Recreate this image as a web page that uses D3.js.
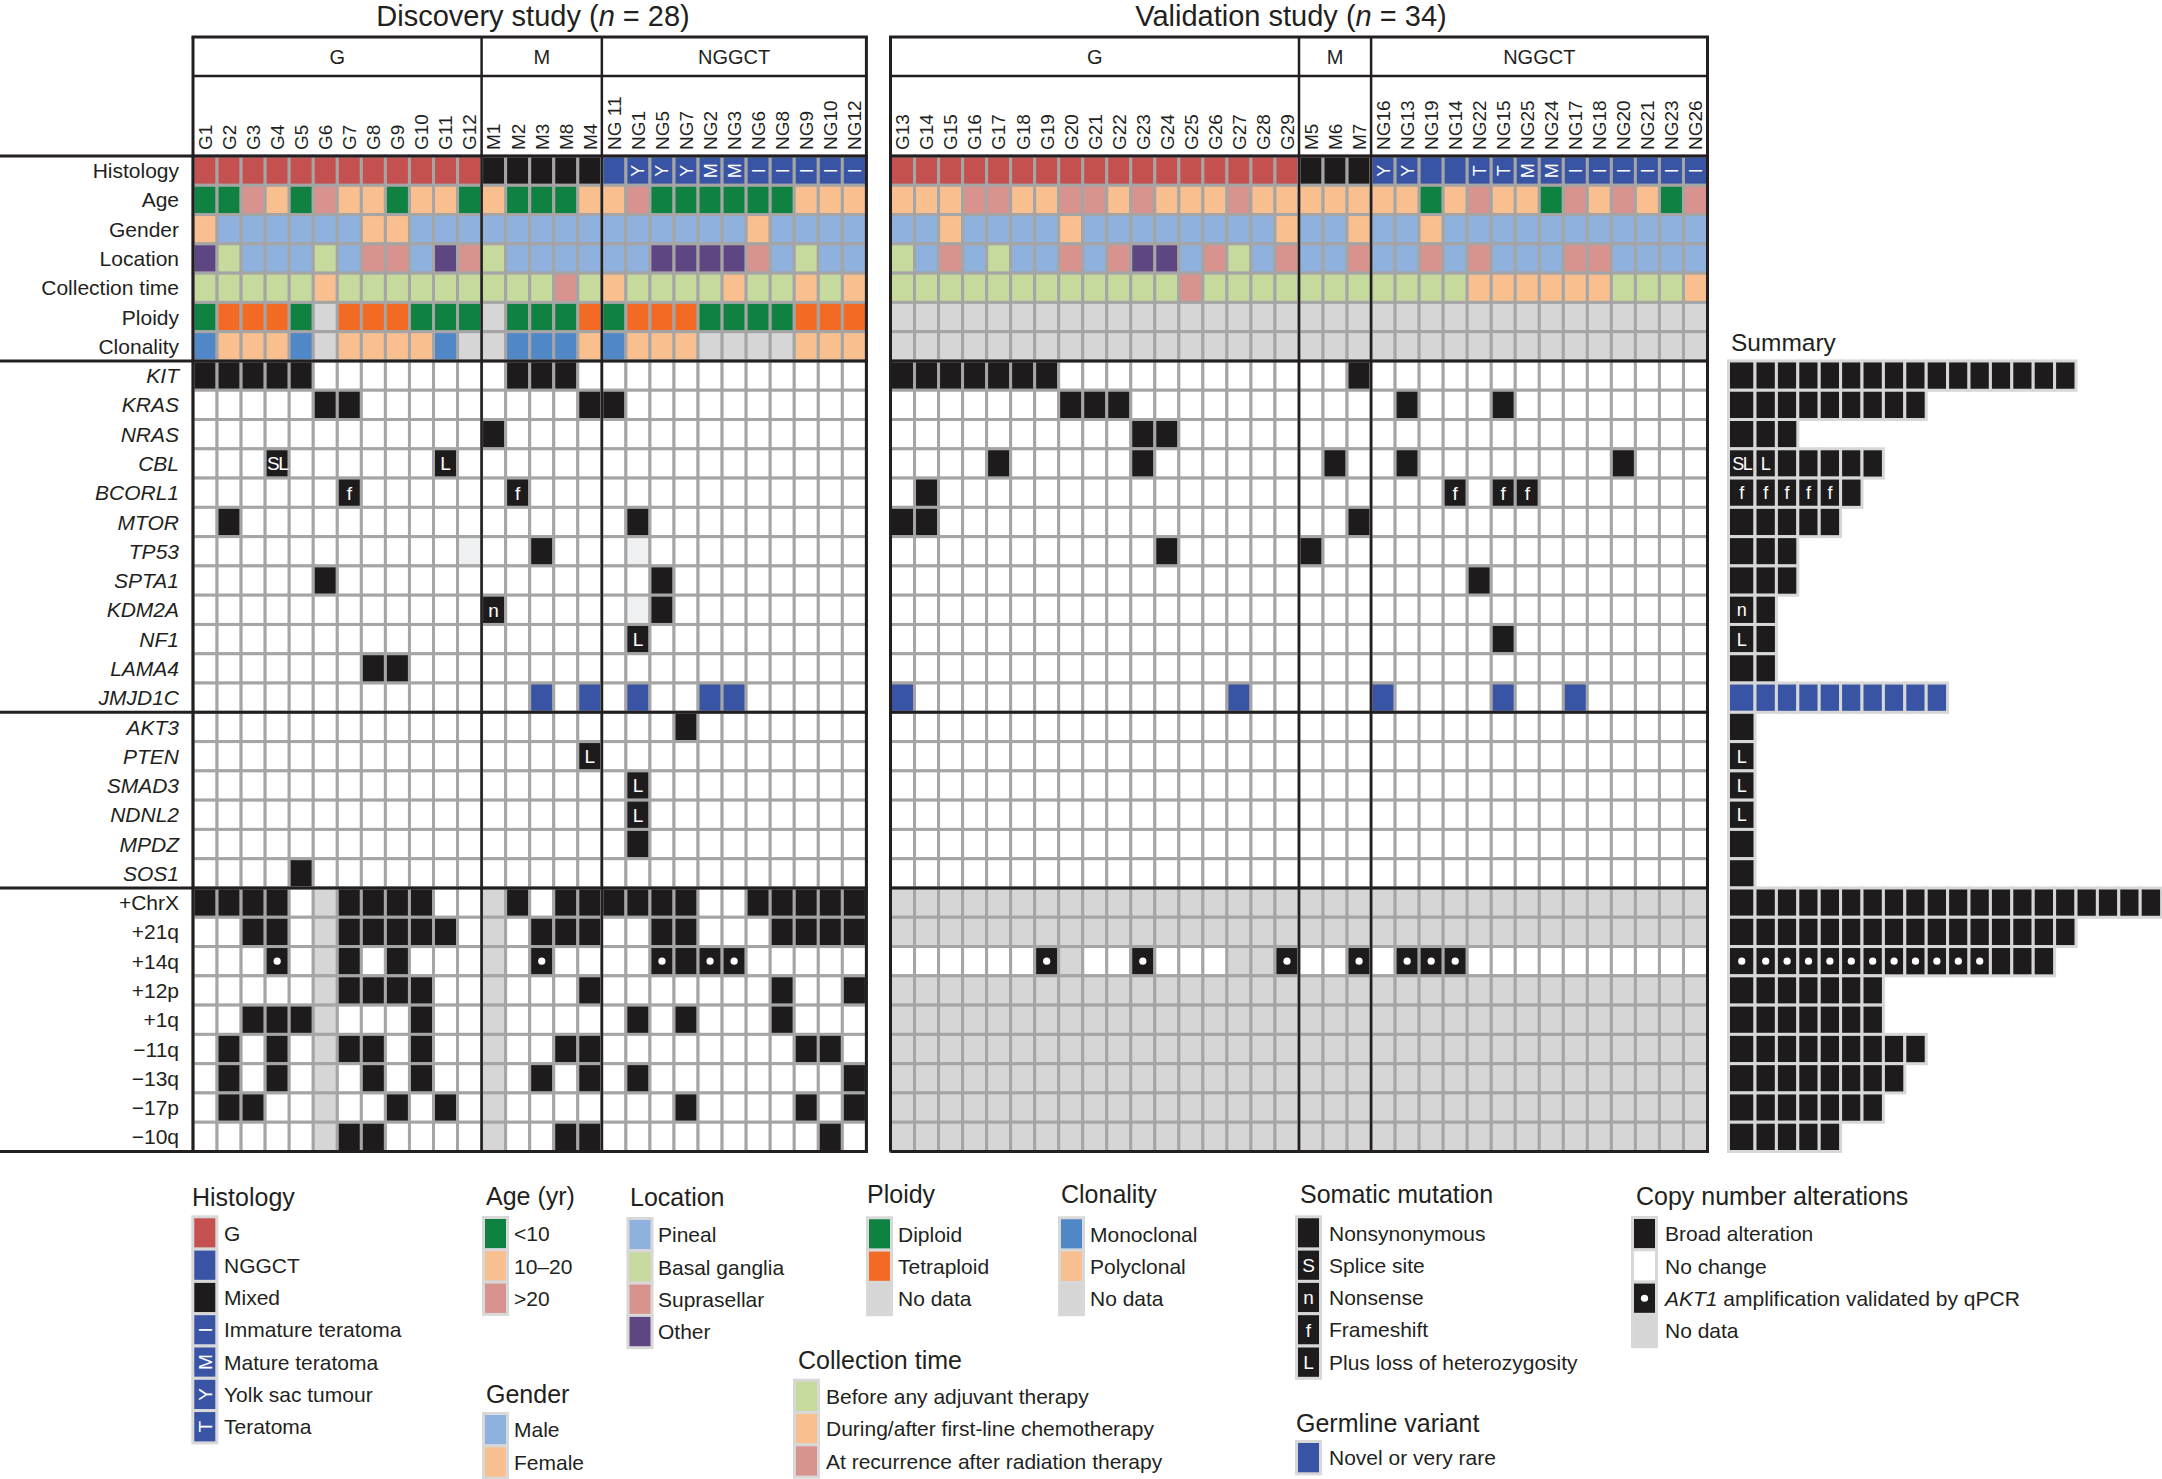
<!DOCTYPE html>
<html>
<head>
<meta charset="utf-8">
<script src="https://cdn.jsdelivr.net/npm/d3@7"></script>
<style>
  body { margin: 0; background: #fff; }
  text { font-family: "Liberation Sans", Arial, Helvetica, sans-serif; fill: #231f20; }
</style>
</head>
<body>
<svg id="chart" width="2162" height="1479"></svg>
<script>
// ---------------- data ----------------
var clinRows = ["Histology", "Age", "Gender", "Location", "Collection time", "Ploidy", "Clonality"];
var genes1 = ["KIT", "KRAS", "NRAS", "CBL", "BCORL1", "MTOR", "TP53", "SPTA1", "KDM2A", "NF1", "LAMA4", "JMJD1C"];
var genes2 = ["AKT3", "PTEN", "SMAD3", "NDNL2", "MPDZ", "SOS1"];
var cnaRows = ["+ChrX", "+21q", "+14q", "+12p", "+1q", "\u221211q", "\u221213q", "\u221217p", "\u221210q"];

var discSamples = ["G1","G2","G3","G4","G5","G6","G7","G8","G9","G10","G11","G12",
  "M1","M2","M3","M8","M4",
  "NG 11","NG1","NG5","NG7","NG2","NG3","NG6","NG8","NG9","NG10","NG12"];
var discGroups = [["G", 12], ["M", 5], ["NGGCT", 11]];
var valSamples = ["G13","G14","G15","G16","G17","G18","G19","G20","G21","G22","G23","G24","G25","G26","G27","G28","G29",
  "M5","M6","M7",
  "NG16","NG13","NG19","NG14","NG22","NG15","NG25","NG24","NG17","NG18","NG20","NG21","NG23","NG26"];
var valGroups = [["G", 17], ["M", 3], ["NGGCT", 14]];

// legend categories (clinical values below are indices into these)
var histLevels = ["G", "NGGCT", "Mixed", "Immature teratoma", "Mature teratoma", "Yolk sac tumour", "Teratoma"];
var ageLevels = ["<10", "10\u201320", ">20"];
var genderLevels = ["Male", "Female"];
var locationLevels = ["Pineal", "Basal ganglia", "Suprasellar", "Other"];
var timeLevels = ["Before any adjuvant therapy", "During/after first-line chemotherapy", "At recurrence after radiation therapy"];
var ploidyLevels = ["Diploid", "Tetraploid", "No data"];
var clonalityLevels = ["Monoclonal", "Polyclonal", "No data"];
var mutationLevels = ["Nonsynonymous", "Splice site", "Nonsense", "Frameshift", "Plus loss of heterozygosity"];
var germlineLevels = ["Novel or very rare"];
var cnaLevels = ["Broad alteration", "No change", "AKT1 amplification validated by qPCR", "No data"];

// discovery clinical tracks
var discHistology = [0,0,0,0,0,0,0,0,0,0,0,0, 2,2,2,2,2, 1,5,5,5,4,4,3,3,3,3,3];
var discAge       = [0,0,2,1,0,2,1,1,0,1,1,0, 1,0,0,0,1, 1,2,0,0,0,0,0,0,1,1,1];
var discGender    = [1,0,0,0,0,0,0,1,1,0,0,0, 0,0,0,0,0, 0,0,0,0,0,0,1,0,0,0,0];
var discLocation  = [3,1,0,0,0,1,0,2,2,0,3,2, 1,0,0,0,0, 0,0,3,3,3,3,2,0,1,0,0];
var discTime      = [0,0,0,0,0,1,0,0,0,0,0,0, 0,0,0,2,0, 1,0,0,0,0,1,0,0,1,0,1];
var discPloidy    = [0,1,1,1,0,2,1,1,1,0,0,0, 2,0,0,0,1, 0,1,1,1,0,0,0,0,1,1,1];
var discClonality = [0,1,1,1,0,2,1,1,1,1,0,2, 2,0,0,0,1, 0,1,1,1,2,2,2,2,1,1,1];

// validation clinical tracks
var valHistology = [0,0,0,0,0,0,0,0,0,0,0,0,0,0,0,0,0, 2,2,2, 5,5,1,1,6,6,4,4,3,3,3,3,3,3];
var valAge       = [1,1,1,2,2,1,1,2,2,1,2,1,1,1,2,1,1, 1,1,1, 1,1,0,1,2,1,1,0,2,1,2,1,0,2];
var valGender    = [0,0,1,0,0,0,0,1,0,0,0,0,0,0,0,0,1, 0,0,1, 0,0,1,0,0,0,0,0,0,0,0,0,0,0];
var valLocation  = [1,0,2,0,1,0,0,2,0,2,3,3,0,2,1,0,2, 0,0,2, 0,0,2,0,2,0,0,0,2,2,0,0,0,0];
var valTime      = [0,0,0,0,0,0,0,0,0,0,0,0,2,0,0,0,0, 0,0,0, 0,0,0,0,1,1,1,1,1,1,0,0,0,1];
var valPloidy    = [2,2,2,2,2,2,2,2,2,2,2,2,2,2,2,2,2, 2,2,2, 2,2,2,2,2,2,2,2,2,2,2,2,2,2];
var valClonality = [2,2,2,2,2,2,2,2,2,2,2,2,2,2,2,2,2, 2,2,2, 2,2,2,2,2,2,2,2,2,2,2,2,2,2];

// mutations: "sample" = nonsynonymous, "sample:mark" (SL, L, f, n; g = germline; . = faint)
var discMutations = [
  ["KIT", ["G1","G2","G3","G4","G5","M2","M3","M8"]],
  ["KRAS", ["G6","G7","M4","NG 11"]],
  ["NRAS", ["M1"]],
  ["CBL", ["G4:SL","G11:L"]],
  ["BCORL1", ["G7:f","M2:f"]],
  ["MTOR", ["G2","NG1"]],
  ["TP53", ["G12:.","M3","NG1:."]],
  ["SPTA1", ["G6","NG5"]],
  ["KDM2A", ["M1:n","NG1:.","NG5"]],
  ["NF1", ["NG1:L"]],
  ["LAMA4", ["G8","G9"]],
  ["JMJD1C", ["M3:g","M4:g","NG1:g","NG2:g","NG3:g"]],
  ["AKT3", ["NG7"]],
  ["PTEN", ["M4:L"]],
  ["SMAD3", ["NG1:L"]],
  ["NDNL2", ["NG1:L"]],
  ["MPDZ", ["NG1"]],
  ["SOS1", ["G5"]]
];
var valMutations = [
  ["KIT", ["G13","G14","G15","G16","G17","G18","G19","M7"]],
  ["KRAS", ["G20","G21","G22","NG13","NG15"]],
  ["NRAS", ["G23","G24"]],
  ["CBL", ["G17","G23","M6","NG13","NG20"]],
  ["BCORL1", ["G14","NG14:f","NG15:f","NG25:f"]],
  ["MTOR", ["G13","G14","M7"]],
  ["TP53", ["G24","M5"]],
  ["SPTA1", ["NG22"]],
  ["NF1", ["NG15"]],
  ["JMJD1C", ["G13:g","G27:g","NG16:g","NG15:g","NG17:g"]]
];

// copy number: "sample" = broad alteration, ":o" = AKT1 amplification validated
var discCna = [
  ["+ChrX", ["G1","G2","G3","G4","G7","G8","G9","G10","M2","M8","M4","NG 11","NG1","NG5","NG7","NG6","NG8","NG9","NG10","NG12"]],
  ["+21q", ["G3","G4","G7","G8","G9","G10","G11","M3","M8","M4","NG5","NG7","NG8","NG9","NG10","NG12"]],
  ["+14q", ["G4:o","G7","G9","M3:o","NG5:o","NG7","NG2:o","NG3:o"]],
  ["+12p", ["G7","G8","G9","G10","M4","NG8","NG12"]],
  ["+1q", ["G3","G4","G5","G10","NG1","NG7","NG8"]],
  ["\u221211q", ["G2","G4","G7","G8","G10","M8","M4","NG9","NG10"]],
  ["\u221213q", ["G2","G4","G8","G10","M3","M4","NG1","NG12"]],
  ["\u221217p", ["G2","G3","G9","G11","NG7","NG9","NG12"]],
  ["\u221210q", ["G7","G8","M8","M4","NG10"]]
];
var discCnaMissing = ["G6", "M1"];            // no copy number data, all rows
var valCna = [
  ["+14q", ["G19:o","G23:o","G29:o","M7:o","NG13:o","NG19:o","NG14:o"]]
];
var valCnaMissingRows = ["+ChrX","+21q","+12p","+1q","\u221211q","\u221213q","\u221217p","\u221210q"];
var val14qMissing = ["G20", "G27", "G28"];

// ---------------- drawing ----------------
var C = { red: "#c4504f", blue: "#3954a5", black: "#1e1b1c", green: "#0f8241", peach: "#f9bf8e",
  pink: "#d9938f", lblue: "#8fb1dd", lgreen: "#c6da9d", purple: "#5d4681", orange: "#f26a24",
  gray: "#d6d6d6", mono: "#4f87c7", grid: "#a5a5a5", faint: "#eef0f1", ink: "#231f20" };

var histColor = d3.scaleOrdinal(histLevels, [C.red, C.blue, C.black, C.blue, C.blue, C.blue, C.blue]);
var histGlyph = d3.scaleOrdinal(histLevels, ["", "", "", "I", "M", "Y", "T"]);
var ageColor = d3.scaleOrdinal(ageLevels, [C.green, C.peach, C.pink]);
var genderColor = d3.scaleOrdinal(genderLevels, [C.lblue, C.peach]);
var locationColor = d3.scaleOrdinal(locationLevels, [C.lblue, C.lgreen, C.pink, C.purple]);
var timeColor = d3.scaleOrdinal(timeLevels, [C.lgreen, C.peach, C.pink]);
var ploidyColor = d3.scaleOrdinal(ploidyLevels, [C.green, C.orange, C.gray]);
var clonalityColor = d3.scaleOrdinal(clonalityLevels, [C.mono, C.peach, C.gray]);

var clinSpec = [
  { levels: histLevels, color: histColor, glyph: histGlyph },
  { levels: ageLevels, color: ageColor },
  { levels: genderLevels, color: genderColor },
  { levels: locationLevels, color: locationColor },
  { levels: timeLevels, color: timeColor },
  { levels: ploidyLevels, color: ploidyColor },
  { levels: clonalityLevels, color: clonalityColor }
];

var svg = d3.select("#chart");
var rowNames = clinRows.concat(genes1, genes2, cnaRows);
var y = d3.scaleBand().domain(rowNames).range([156, 1151.5]);
var yTop = 37, yMid = 76;

function parseHit(h) {
  var p = h.split(":");
  return { sample: p[0], mark: p.length > 1 ? p[1] : "" };
}

// row labels
svg.append("g").selectAll("text").data(rowNames).join("text")
  .attr("x", 179).attr("y", function(d) { return y(d) + y.bandwidth() / 2; })
  .attr("dy", "0.36em").attr("text-anchor", "end").attr("font-size", 21)
  .attr("font-style", function(d) { return genes1.indexOf(d) >= 0 || genes2.indexOf(d) >= 0 ? "italic" : "normal"; })
  .text(function(d) { return d; });

var studies = [
  { title: "Discovery study", n: 28, samples: discSamples, groups: discGroups, x0: 193, x1: 866.4, lineStart: 0,
    clin: [discHistology, discAge, discGender, discLocation, discTime, discPloidy, discClonality],
    muts: discMutations, cna: discCna, tx: 533,
    missing: function(r, s) { return discCnaMissing.indexOf(s) >= 0; } },
  { title: "Validation study", n: 34, samples: valSamples, groups: valGroups, x0: 890.5, x1: 1707.5, lineStart: 890.5,
    clin: [valHistology, valAge, valGender, valLocation, valTime, valPloidy, valClonality],
    muts: valMutations, cna: valCna, tx: 1291,
    missing: function(r, s) { return valCnaMissingRows.indexOf(r) >= 0 || (r === "+14q" && val14qMissing.indexOf(s) >= 0); } }
];

studies.forEach(function(st) {
  var x = d3.scaleBand().domain(st.samples).range([st.x0, st.x1]);
  var g = svg.append("g");
  var cells = [];

  clinRows.forEach(function(r, k) {
    var spec = clinSpec[k];
    st.clin[k].forEach(function(v, i) {
      var lev = spec.levels[v];
      cells.push({ row: r, sample: st.samples[i], fill: spec.color(lev),
        glyph: spec.glyph ? spec.glyph(lev) : "", type: "rot" });
    });
  });

  function hitMap(list, r) {
    var e = list.find(function(d) { return d[0] === r; });
    var m = new Map();
    if (e) e[1].forEach(function(h) { var p = parseHit(h); m.set(p.sample, p.mark); });
    return m;
  }

  genes1.concat(genes2).forEach(function(r) {
    var hits = hitMap(st.muts, r);
    st.samples.forEach(function(s) {
      var fill = "#fff", glyph = "";
      if (hits.has(s)) {
        var m = hits.get(s);
        fill = m === "g" ? C.blue : (m === "." ? C.faint : C.black);
        glyph = (m === "g" || m === ".") ? "" : m;
      }
      cells.push({ row: r, sample: s, fill: fill, glyph: glyph, type: "text" });
    });
  });

  cnaRows.forEach(function(r) {
    var hits = hitMap(st.cna, r);
    st.samples.forEach(function(s) {
      var fill = st.missing(r, s) ? C.gray : "#fff", glyph = "";
      if (hits.has(s)) { fill = C.black; glyph = hits.get(s); }
      cells.push({ row: r, sample: s, fill: fill, glyph: glyph, type: "dot" });
    });
  });

  g.selectAll("rect.cell").data(cells).join("rect").attr("class", "cell")
    .attr("x", function(d) { return x(d.sample); })
    .attr("y", function(d) { return y(d.row); })
    .attr("width", x.bandwidth()).attr("height", y.bandwidth())
    .attr("fill", function(d) { return d.fill; })
    .attr("stroke", C.grid).attr("stroke-width", 3);

  var cx = function(d) { return x(d.sample) + x.bandwidth() / 2; };
  var cy = function(d) { return y(d.row) + y.bandwidth() / 2; };

  g.selectAll("text.rot").data(cells.filter(function(d) { return d.type === "rot" && d.glyph; })).join("text")
    .attr("class", "rot")
    .attr("transform", function(d) { return "translate(" + cx(d) + "," + cy(d) + ") rotate(-90)"; })
    .attr("text-anchor", "middle").attr("dy", "0.36em").attr("font-size", 18)
    .style("fill", "#fff").text(function(d) { return d.glyph; });

  g.selectAll("text.mark").data(cells.filter(function(d) { return d.type === "text" && d.glyph; })).join("text")
    .attr("class", "mark")
    .attr("x", cx).attr("y", cy).attr("dy", "0.36em")
    .attr("text-anchor", "middle").attr("font-size", 19)
    .attr("letter-spacing", function(d) { return d.glyph.length > 1 ? -1.5 : 0; })
    .style("fill", "#fff").text(function(d) { return d.glyph; });

  g.selectAll("circle.dot").data(cells.filter(function(d) { return d.type === "dot" && d.glyph === "o"; })).join("circle")
    .attr("class", "dot").attr("cx", cx).attr("cy", cy).attr("r", 3.6).attr("fill", "#fff");

  // sample labels
  g.selectAll("text.sample").data(st.samples).join("text").attr("class", "sample")
    .attr("transform", function(d) { return "translate(" + (x(d) + x.bandwidth() / 2) + ",150) rotate(-90)"; })
    .attr("dy", "0.36em").attr("font-size", 19).text(function(d) { return d; });

  // group labels and dividers
  var bounds = [st.x0], acc = 0;
  st.groups.forEach(function(gr) { acc += gr[1]; bounds.push(acc < st.samples.length ? x(st.samples[acc]) : st.x1); });
  st.groups.forEach(function(gr, i) {
    g.append("text").attr("x", (bounds[i] + bounds[i + 1]) / 2).attr("y", (yTop + yMid) / 2)
      .attr("dy", "0.36em").attr("text-anchor", "middle").attr("font-size", 20).text(gr[0]);
  });

  var yEnd = y.range()[1];
  bounds.forEach(function(bx, i) {
    g.append("line").attr("x1", bx).attr("x2", bx).attr("y1", yTop).attr("y2", yEnd)
      .attr("stroke", C.ink).attr("stroke-width", (i === 0 || i === bounds.length - 1) ? 3 : 2.5);
  });
  g.append("line").attr("x1", st.x0 - 1.5).attr("x2", st.x1 + 1.5).attr("y1", yTop).attr("y2", yTop)
    .attr("stroke", C.ink).attr("stroke-width", 3.2);
  g.append("line").attr("x1", st.x0).attr("x2", st.x1).attr("y1", yMid).attr("y2", yMid)
    .attr("stroke", C.ink).attr("stroke-width", 2.5);
  [y("Histology"), y("KIT"), y("AKT3"), y("+ChrX"), yEnd].forEach(function(hy) {
    g.append("line").attr("x1", st.lineStart).attr("x2", st.x1 + 1.5).attr("y1", hy).attr("y2", hy)
      .attr("stroke", C.ink).attr("stroke-width", 3);
  });

  var t = g.append("text").attr("x", st.tx).attr("y", 26).attr("text-anchor", "middle").attr("font-size", 29);
  t.append("tspan").text(st.title + " (");
  t.append("tspan").attr("font-style", "italic").text("n");
  t.append("tspan").text(" = " + st.n + ")");
});

// ---------------- summary ----------------
var summaryRows = genes1.concat(genes2, cnaRows);
var sx = d3.scaleLinear().domain([0, 20]).range([1733.6, 2161.6]);
var sg = svg.append("g");
sg.append("text").attr("x", 1731).attr("y", 351).attr("font-size", 24.5).text("Summary");

summaryRows.forEach(function(r) {
  var marks = [];
  [discMutations, discCna, valMutations, valCna].forEach(function(list) {
    var e = list.find(function(d) { return d[0] === r; });
    if (e) e[1].forEach(function(h) { var m = parseHit(h).mark; if (m !== ".") marks.push(m); });
  });
  var labelled = marks.filter(function(m) { return m && m !== "g"; });
  var plain = marks.filter(function(m) { return !m || m === "g"; });
  var ordered = labelled.concat(plain).map(function(m, k) { return { k: k, m: m }; });

  var left = function(d) { return d.k === 0 ? 1728.5 : sx(d.k); };
  var rg = sg.append("g");
  rg.selectAll("rect").data(ordered).join("rect")
    .attr("x", left).attr("y", y(r))
    .attr("width", function(d) { return sx(d.k + 1) - left(d); }).attr("height", y.bandwidth())
    .attr("fill", function(d) { return d.m === "g" ? C.blue : C.black; })
    .attr("stroke", "#d7d7d7").attr("stroke-width", 3);
  rg.selectAll("text").data(ordered.filter(function(d) { return d.m && d.m !== "g" && d.m !== "o"; })).join("text")
    .attr("x", function(d) { return (left(d) + sx(d.k + 1)) / 2; }).attr("y", y(r) + y.bandwidth() / 2)
    .attr("dy", "0.36em").attr("text-anchor", "middle").attr("font-size", 18)
    .attr("letter-spacing", function(d) { return d.m.length > 1 ? -1.5 : 0; })
    .style("fill", "#fff").text(function(d) { return d.m; });
  rg.selectAll("circle").data(ordered.filter(function(d) { return d.m === "o"; })).join("circle")
    .attr("cx", function(d) { return (left(d) + sx(d.k + 1)) / 2; }).attr("cy", y(r) + y.bandwidth() / 2)
    .attr("r", 3.6).attr("fill", "#fff");
});

// ---------------- legends ----------------
var pitch = 32.3;
function legend(opt) {
  var g = svg.append("g");
  g.append("text").attr("x", opt.tx).attr("y", opt.ty).attr("font-size", 25).text(opt.title);
  opt.levels.forEach(function(lev, i) {
    var top = opt.sy + i * pitch;
    g.append("rect").attr("x", opt.sx - 1.5).attr("y", top - 1.5).attr("width", 24).attr("height", pitch)
      .attr("fill", opt.fill(lev, i)).attr("stroke", "#d8d8d8").attr("stroke-width", 3);
    var mcx = opt.sx + 10.5, mcy = top - 1.5 + pitch / 2;
    var gl = opt.glyph ? opt.glyph(lev, i) : "";
    if (gl === "o") {
      g.append("circle").attr("cx", mcx).attr("cy", mcy).attr("r", 3.6).attr("fill", "#fff");
    } else if (gl) {
      g.append("text").attr("transform", "translate(" + mcx + "," + mcy + ")" + (opt.rotate ? " rotate(-90)" : ""))
        .attr("text-anchor", "middle").attr("dy", "0.36em").attr("font-size", 19).style("fill", "#fff").text(gl);
    }
    var lt = g.append("text").attr("x", opt.lx).attr("y", mcy).attr("dy", "0.36em").attr("font-size", 21);
    if (lev.indexOf("AKT1") === 0) {
      lt.append("tspan").attr("font-style", "italic").text("AKT1");
      lt.append("tspan").text(lev.slice(4));
    } else {
      lt.text(lev);
    }
  });
}

legend({ title: "Histology", tx: 192, ty: 1206, sx: 194.3, sy: 1218.3, lx: 224, levels: histLevels,
  fill: function(l) { return histColor(l); }, glyph: function(l) { return histGlyph(l); }, rotate: true });
legend({ title: "Age (yr)", tx: 486, ty: 1205, sx: 485, sy: 1219, lx: 514, levels: ageLevels,
  fill: function(l) { return ageColor(l); } });
legend({ title: "Gender", tx: 486, ty: 1403, sx: 485, sy: 1415, lx: 514, levels: genderLevels,
  fill: function(l) { return genderColor(l); } });
legend({ title: "Location", tx: 630, ty: 1206, sx: 629.5, sy: 1220, lx: 658, levels: locationLevels,
  fill: function(l) { return locationColor(l); } });
legend({ title: "Ploidy", tx: 867, ty: 1203, sx: 869, sy: 1219.3, lx: 898, levels: ploidyLevels,
  fill: function(l) { return ploidyColor(l); } });
legend({ title: "Clonality", tx: 1061, ty: 1203, sx: 1061, sy: 1219.3, lx: 1090, levels: clonalityLevels,
  fill: function(l) { return clonalityColor(l); } });
legend({ title: "Collection time", tx: 798, ty: 1369, sx: 796, sy: 1381.7, lx: 826, levels: timeLevels,
  fill: function(l) { return timeColor(l); } });
legend({ title: "Somatic mutation", tx: 1300, ty: 1203, sx: 1298, sy: 1218.3, lx: 1329, levels: mutationLevels,
  fill: function() { return C.black; }, glyph: function(l, i) { return ["", "S", "n", "f", "L"][i]; } });
legend({ title: "Germline variant", tx: 1296, ty: 1432, sx: 1298, sy: 1443, lx: 1329, levels: germlineLevels,
  fill: function() { return C.blue; } });
legend({ title: "Copy number alterations", tx: 1636, ty: 1205, sx: 1634, sy: 1219, lx: 1665, levels: cnaLevels,
  fill: function(l, i) { return [C.black, "#fff", C.black, C.gray][i]; },
  glyph: function(l, i) { return i === 2 ? "o" : ""; } });
</script>
</body>
</html>
